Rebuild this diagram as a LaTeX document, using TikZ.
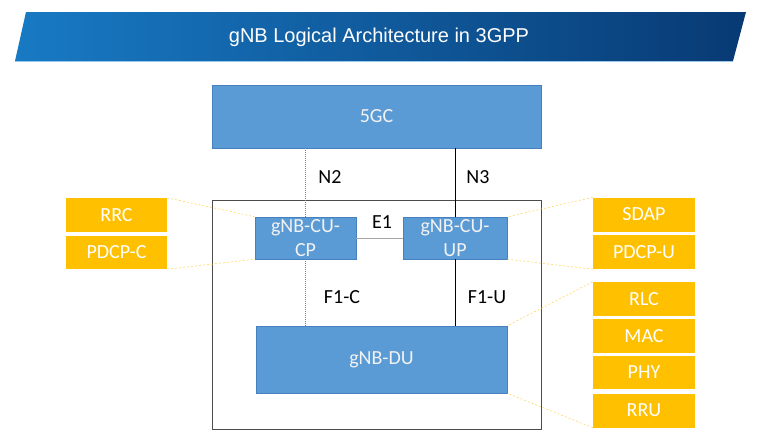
\documentclass[tikz,border=0pt]{standalone}
\usepackage{fontspec}
\setmainfont{Carlito}
\newfontfamily\titlefont{Liberation Sans}

\definecolor{boxblue}{RGB}{91,155,213}
\definecolor{boxedge}{RGB}{70,128,190}
\definecolor{ctrlblue}{RGB}{60,140,215}
\definecolor{layerorange}{RGB}{255,192,0}
\definecolor{bannerleft}{RGB}{24,122,196}
\definecolor{bannerright}{RGB}{8,58,116}
\definecolor{bannerline}{RGB}{150,200,235}

\begin{document}
\begin{tikzpicture}[x=1pt, y=-1pt,
    every node/.style={font=\fontsize{20}{24}\selectfont, inner sep=0pt},
    nodebox/.style={draw=boxedge, fill=boxblue, text=white!95!black, align=center},
    layerbox/.style={fill=layerorange, text=white, minimum width=102pt, minimum height=34pt},
    ctrl/.style={ctrlblue, dash pattern=on 1pt off 1pt, line width=1pt},
    user/.style={black, line width=0.7pt},
    mapline/.style={layerorange!70, dash pattern=on 2pt off 2pt, line width=0.5pt}]
    \useasboundingbox (0,0) rectangle (761,442);

    % title banner
    \shade[left color=bannerleft, right color=bannerright]
        (26,12) -- (746,12) -- (733,61) -- (15,61) -- cycle;
    \draw[bannerline, line width=0.8pt] (15,61) -- (733,61);
    \node[text=white, font=\titlefont\fontsize{20}{24}\selectfont] (title) at (379,37) {gNB Logical Architecture in 3GPP};

    % core and gNB
    \node[nodebox, minimum width=329pt, minimum height=63pt] (core) at (376.5,116.5) {5GC};
    \node[draw=black!70, line width=0.7pt, minimum width=329pt, minimum height=229pt] (gnb) at (376.5,314.5) {};
    \node[nodebox, minimum width=101pt, minimum height=42pt] (cucp) at (305.5,238) {gNB-CU-\\CP};
    \node[nodebox, minimum width=104pt, minimum height=42pt] (cuup) at (455,238) {gNB-CU-\\UP};
    \node[nodebox, minimum width=251pt, minimum height=67pt] (du) at (381.5,359.5) {gNB-DU};

    % protocol layers
    \node[layerbox, minimum width=101pt] (rrc) at (116.5,215) {RRC};
    \node[layerbox, minimum width=101pt, minimum height=33pt] (pdcpc) at (116.5,252.5) {PDCP-C};
    \node[layerbox] (sdap) at (644,214.5) {SDAP};
    \node[layerbox] (pdcpu) at (644,252) {PDCP-U};
    \node[layerbox] (rlc) at (644,299) {RLC};
    \node[layerbox] (mac) at (644,336) {MAC};
    \node[layerbox, minimum height=33pt] (phy) at (644,372.5) {PHY};
    \node[layerbox] (rru) at (644,410.5) {RRU};

    % interfaces
    \draw[ctrl] (cucp.north) -- (cucp.north |- core.south);
    \draw[user] (cuup.north) -- (cuup.north |- core.south);
    \draw[black!35, line width=0.5pt] (cucp.east) -- (cuup.west);
    \draw[ctrl] (cucp.south) -- (cucp.south |- du.north);
    \draw[user] (cuup.south) -- (cuup.south |- du.north);

    \node (n2) at (330,177) {N2};
    \node (n3) at (478,177) {N3};
    \node (e1) at (382,222) {E1};
    \node (f1c) at (342,297) {F1-C};
    \node (f1u) at (487,297) {F1-U};

    % mapping of layers
    \draw[mapline] (rrc.north east) -- (cucp.north west);
    \draw[mapline] (pdcpc.south east) -- (cucp.south west);
    \draw[mapline] (sdap.north west) -- (cuup.north east);
    \draw[mapline] (pdcpu.south west) -- (cuup.south east);
    \draw[mapline] (rlc.north west) -- (du.north east);
    \draw[mapline] (rru.south west) -- (du.south east);
\end{tikzpicture}
\end{document}
